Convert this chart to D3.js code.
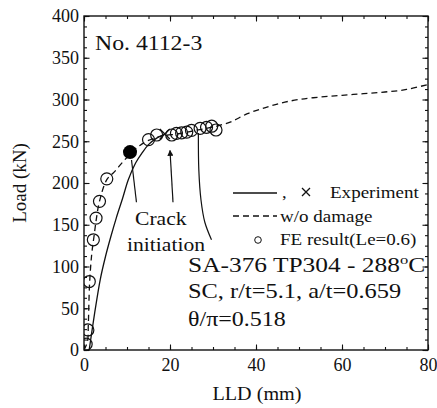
<!DOCTYPE html>
<html>
<head>
<meta charset="utf-8">
<script src="https://cdn.jsdelivr.net/npm/d3@7"></script>
<style>
  body { margin: 0; background: #fff; }
</style>
</head>
<body>
<div id="chart"></div>
<script>
// Experiment curve (solid), ends at the x marker
const expLLD  = [1.2, 2.5, 3.8, 5.0, 6.2, 7.5, 9.0, 10.3, 12.0, 13.5, 15.0, 17.0, 18.8];
const expLoad = [0,   45,  85,  112, 135, 158, 182, 204,  224,  236,  246,  254,  258.7];
const expEnd = [18.8, 258.7];

// Crack initiation (filled circle)
const crackPoint = [10.7, 237];

// w/o damage curve (dashed)
const noDamLLD  = [0, 0.8, 1.0, 1.3, 1.8, 2.3, 2.9, 3.6, 5.3, 7.0, 9.0, 11.0, 13.0, 15.0, 18.0, 22.0, 26.0, 30.0, 34.0, 38.0, 42.0, 46.0, 50.0, 55.0, 60.0, 65.0, 70.0, 75.0, 80.0];
const noDamLoad = [0, 10,  30,  80,  115, 135, 158, 178, 204, 213, 225, 236,  245,  251,  256,  259,  263,  267,  273,  283,  290,  296,  300,  303,  305,  307,  309,  312,  318];

// FE result (Le=0.6), open circles
const feLLD  = [0.5, 0.9, 1.23, 2.17, 2.8, 3.6, 5.3, 15.0, 16.9, 20.4, 21.5, 22.7, 23.9, 25.0, 27.0, 28.5, 29.7, 30.7];
const feLoad = [7,   24,  82,   132,  158, 178, 205, 252,  257.5, 257.5, 259.5, 260, 261, 263, 265.5, 266.7, 268, 263.5];

// Axis ticks
const xTicks = [0, 20, 40, 60, 80];
const xMinor = d3.range(0, 81, 5);
const yTicks = [0, 50, 100, 150, 200, 250, 300, 350, 400];
const yMinor = d3.range(0, 401, 12.5);

// Annotation leader lines (in data units)
const leaderCrack = [[11.05, 227.5], [12.2, 177]];
const leaderArrow = [[20.7, 177], [20.0, 239]];
const leaderCurve = [[26.6, 260], [26.7, 216], [27.2, 180], [28.1, 153], [29.65, 132]];

const width = 437, height = 408;
const margin = { top: 16, right: 9, bottom: 58, left: 84 };
const serif = "'Liberation Serif', 'Times New Roman', serif";

const x = d3.scaleLinear().domain([0, 80]).range([margin.left, width - margin.right]);
const y = d3.scaleLinear().domain([0, 400]).range([height - margin.bottom, margin.top]);

const svg = d3.select("#chart").append("svg")
    .attr("width", width)
    .attr("height", height)
    .attr("viewBox", [0, 0, width, height]);

svg.append("rect").attr("width", width).attr("height", height).attr("fill", "#fff");

// helper for horizontally stretched serif text
function label(g, txt, px, py, size, sx, anchor) {
    return g.append("text")
        .attr("transform", `translate(${px},${py}) scale(${sx},1)`)
        .attr("font-family", serif)
        .attr("font-size", size)
        .attr("text-anchor", anchor || "start")
        .attr("fill", "#111")
        .text(txt);
}

const plotH = y(0) - y(400), plotW = x(80) - x(0);

// clip marks to the plot box
svg.append("clipPath").attr("id", "plot-clip")
    .append("rect")
    .attr("x", x(0)).attr("y", y(400))
    .attr("width", plotW).attr("height", plotH);

// Axes: minor ticks, then major with labels
function axisGroup(axis, tx, ty, labels) {
    const g = svg.append("g")
        .attr("transform", `translate(${tx},${ty})`)
        .call(axis)
        .attr("font-family", serif)
        .attr("font-size", 18);
    g.select(".domain").remove();
    g.selectAll(".tick line").attr("stroke", "#111").attr("stroke-width", 1.1);
    if (!labels) g.selectAll(".tick text").remove();
    g.selectAll(".tick text").attr("fill", "#111");
    return g;
}

axisGroup(d3.axisBottom(x).tickValues(xMinor).tickSize(-3).tickFormat(""), 0, y(0), false);
axisGroup(d3.axisBottom(x).tickValues(xTicks).tickSize(-5.5).tickPadding(8), 0, y(0), true);
axisGroup(d3.axisTop(x).tickValues(xMinor).tickSize(-3).tickFormat(""), 0, y(400), false);
axisGroup(d3.axisTop(x).tickValues(xTicks).tickSize(-5.5), 0, y(400), false);
axisGroup(d3.axisLeft(y).tickValues(yMinor).tickSize(-3).tickFormat(""), x(0), 0, false);
axisGroup(d3.axisLeft(y).tickValues(yTicks).tickSize(-5.5).tickPadding(5), x(0), 0, true);
axisGroup(d3.axisRight(y).tickValues(yMinor).tickSize(-3).tickFormat(""), x(80), 0, false);
axisGroup(d3.axisRight(y).tickValues(yTicks).tickSize(-5.5), x(80), 0, false);

// Axis titles
label(svg, "LLD (mm)", x(40) + 1, 400, 18, 1.12, "middle");
svg.append("text")
    .attr("transform", `translate(26,${(y(0) + y(400)) / 2}) rotate(-90)`)
    .attr("font-family", serif)
    .attr("font-size", 19)
    .attr("text-anchor", "middle")
    .attr("fill", "#111")
    .text("Load (kN)");

const lineC = d3.line().x(d => x(d[0])).y(d => y(d[1])).curve(d3.curveCatmullRom);
const marks = svg.append("g").attr("clip-path", "url(#plot-clip)");

// w/o damage
marks.append("path")
    .datum(noDamLLD.map((v, i) => [v, noDamLoad[i]]))
    .attr("d", lineC)
    .attr("fill", "none").attr("stroke", "#111").attr("stroke-width", 1.3)
    .attr("stroke-dasharray", "6,4");

// Experiment
marks.append("path")
    .datum(expLLD.map((v, i) => [v, expLoad[i]]))
    .attr("d", lineC)
    .attr("fill", "none").attr("stroke", "#111").attr("stroke-width", 1.3);

// x marker at end of experiment
const cross = (g, cx, cy, s) => g.append("path")
    .attr("d", `M${cx - s},${cy - s}L${cx + s},${cy + s}M${cx - s},${cy + s}L${cx + s},${cy - s}`)
    .attr("stroke", "#111").attr("stroke-width", 1.3);
cross(marks, x(expEnd[0]), y(expEnd[1]), 5);

// FE circles
marks.append("g").selectAll("circle")
    .data(feLLD.map((v, i) => [v, feLoad[i]]))
    .join("circle")
    .attr("cx", d => x(d[0]))
    .attr("cy", d => y(d[1]))
    .attr("r", 6)
    .attr("fill", "none")
    .attr("stroke", "#111")
    .attr("stroke-width", 1.2);

// Crack initiation point
marks.append("circle")
    .attr("cx", x(crackPoint[0])).attr("cy", y(crackPoint[1]))
    .attr("r", 7).attr("fill", "#000");

// Frame
svg.append("rect")
    .attr("x", x(0)).attr("y", y(400))
    .attr("width", plotW).attr("height", plotH)
    .attr("fill", "none").attr("stroke", "#111").attr("stroke-width", 1.4);

// Arrowhead
svg.append("defs").append("marker")
    .attr("id", "arrow")
    .attr("viewBox", "0 0 10 10")
    .attr("refX", 9).attr("refY", 5)
    .attr("markerWidth", 6).attr("markerHeight", 6)
    .attr("markerUnits", "userSpaceOnUse")
    .attr("orient", "auto")
    .append("path").attr("d", "M0,0L10,5L0,10z").attr("fill", "#111");

const plain = d3.line().x(d => x(d[0])).y(d => y(d[1]));
svg.append("path").attr("d", plain(leaderCrack))
    .attr("fill", "none").attr("stroke", "#111").attr("stroke-width", 1.2);
svg.append("path").attr("d", plain(leaderArrow))
    .attr("fill", "none").attr("stroke", "#111").attr("stroke-width", 1.2)
    .attr("marker-end", "url(#arrow)");
svg.append("path").attr("d", lineC(leaderCurve))
    .attr("fill", "none").attr("stroke", "#111").attr("stroke-width", 1.2);

// Text annotations
label(svg, "No. 4112-3", 95, 50, 22, 1.08);
label(svg, "Crack", 135, 225, 18, 1.2);
label(svg, "initiation", 127, 251, 18, 1.2);

// Legend
svg.append("line").attr("x1", 233).attr("x2", 277).attr("y1", 193).attr("y2", 193)
    .attr("stroke", "#111").attr("stroke-width", 1.3);
label(svg, ",", 282, 198, 17, 1.1);
cross(svg, 306, 192, 4);
label(svg, "Experiment", 330, 198, 17, 1.12);

svg.append("line").attr("x1", 233).attr("x2", 277).attr("y1", 216).attr("y2", 216)
    .attr("stroke", "#111").attr("stroke-width", 1.3).attr("stroke-dasharray", "6,4");
label(svg, "w/o damage", 280, 222, 17, 1.12);

svg.append("circle").attr("cx", 258).attr("cy", 240).attr("r", 3.3)
    .attr("fill", "none").attr("stroke", "#111").attr("stroke-width", 1);
label(svg, "FE result(Le=0.6)", 280, 245, 17, 1.12);

// Specimen info
const t1 = label(svg, "SA-376 TP304 - 288", 188, 272, 20, 1.27);
t1.append("tspan").attr("font-size", 13).attr("dy", -8).text("o");
t1.append("tspan").attr("dy", 8).text("C");
label(svg, "SC, r/t=5.1, a/t=0.659", 188, 298, 20, 1.22);
label(svg, "θ/π=0.518", 188, 326, 20, 1.2);
</script>
</body>
</html>
